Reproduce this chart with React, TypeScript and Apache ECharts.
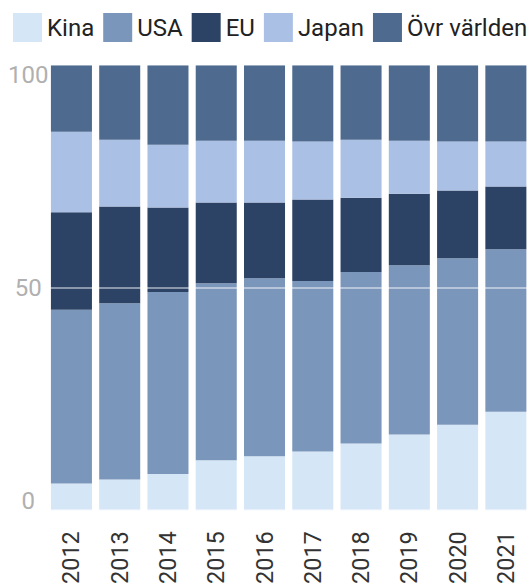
import React, { useEffect, useRef } from "react";
import * as echarts from "echarts";

// Annual shares (percent of total) per region, stacked bottom to top
const years = ["2012", "2013", "2014", "2015", "2016", "2017", "2018", "2019", "2020", "2021"];
const kina = [6.0, 6.9, 8.1, 11.2, 12.1, 13.2, 15.0, 17.0, 19.2, 22.1];
const usa = [39.0, 39.6, 40.9, 39.8, 40.0, 38.3, 38.5, 38.0, 37.4, 36.5];
const eu = [21.9, 21.7, 19.0, 18.1, 17.0, 18.3, 16.7, 16.1, 15.2, 14.1];
const japan = [18.1, 15.0, 14.1, 13.9, 13.9, 13.0, 13.0, 11.9, 11.0, 10.1];
const ovrigt = [15.0, 16.8, 17.9, 17.0, 17.0, 17.2, 16.8, 17.0, 17.2, 17.2];

const seriesDefs = [
  { name: "Kina", data: kina, color: "#d5e6f7" },
  { name: "USA", data: usa, color: "#7b96bb" },
  { name: "EU", data: eu, color: "#2d4366" },
  { name: "Japan", data: japan, color: "#abc0e5" },
  { name: "Övr världen", data: ovrigt, color: "#4e6a8f" },
];

const FONT = "Roboto, 'Noto Sans', sans-serif";

export default function App() {
  const ref = useRef<HTMLDivElement>(null);

  useEffect(() => {
    if (!ref.current) return;
    const chart = echarts.init(ref.current, undefined, { renderer: "svg" });
    const yLabel = (size: number) => ({ fontSize: size, color: "#b0b0b0", fontFamily: FONT, align: "center" });
    chart.setOption({
      animation: false,
      legend: {
        left: 13,
        top: 13,
        padding: 0,
        itemWidth: 29,
        itemHeight: 29,
        itemGap: 9,
        icon: "rect",
        textStyle: { fontSize: 24, color: "#222", fontFamily: FONT },
        data: seriesDefs.map((s) => s.name),
      },
      grid: { left: 47.3, right: -1.7, top: 65, bottom: 75.5, containLabel: false },
      xAxis: {
        type: "category",
        data: years,
        axisLine: { show: false },
        axisTick: { show: false },
        axisLabel: {
          rotate: 90,
          margin: 21,
          fontSize: 23.5,
          color: "#333",
          fontFamily: FONT,
          interval: 0,
        },
      },
      yAxis: {
        type: "value",
        min: 0,
        max: 100,
        interval: 50,
        z: 5,
        axisLine: { show: false },
        axisTick: { show: false },
        splitLine: { show: true, lineStyle: { color: "rgba(255,255,255,0.45)", width: 2 } },
        axisLabel: {
          margin: 19,
          align: "center",
          fontSize: 24,
          color: "#b0b0b0",
          fontFamily: FONT,
          formatter: (v: number) => (v === 100 ? "{t|100}" : v === 0 ? "{b|0}" : "{m|" + v + "}"),
          rich: {
            t: { ...yLabel(24), padding: [20, 0, 0, 0] },
            m: { ...yLabel(24) },
            b: { ...yLabel(24), padding: [0, 0, 19, 0] },
          },
        },
      },
      series: seriesDefs.map((s) => ({
        name: s.name,
        type: "bar",
        stack: "total",
        barCategoryGap: "15%",
        data: s.data,
        itemStyle: { color: s.color },
        emphasis: { disabled: true },
      })),
    });
    return () => chart.dispose();
  }, []);

  return (
    <div
      ref={ref}
      style={{ position: "absolute", left: 0, top: 0, width: 530, height: 587 }}
    />
  );
}
